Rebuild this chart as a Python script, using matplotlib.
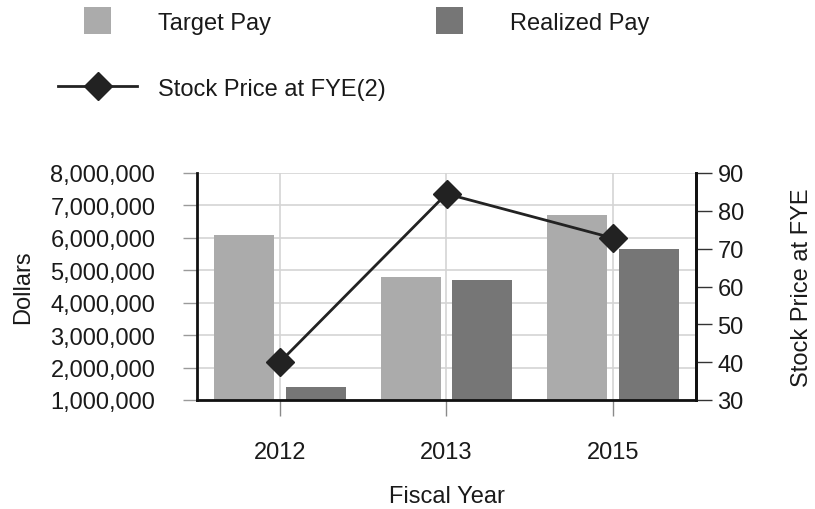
import matplotlib
matplotlib.use("Agg")
import matplotlib.pyplot as plt
import numpy as np
from matplotlib.ticker import FuncFormatter, MultipleLocator
from matplotlib.patches import Rectangle
from matplotlib.container import BarContainer
from matplotlib.legend_handler import HandlerPatch, update_from_first_child

plt.rcParams['font.family'] = ['Liberation Sans', 'DejaVu Sans']

years = ["2012", "2013", "2015"]
target_pay = [6100000, 4790000, 6690000]
realized_pay = [1390000, 4690000, 5650000]
stock_price = [40.1, 84.5, 72.8]

FS = 17
fig = plt.figure(figsize=(8.15, 5.1), dpi=100)
W, H = 815, 510
ax = fig.add_axes([197 / W, 1 - 401 / H, (696 - 197) / W, (401 - 174) / H])

x = np.arange(len(years))
bw = 0.36
off = 0.216
b1 = ax.bar(x - off, target_pay, bw, color="#ababab", label="Target Pay", zorder=2)
b2 = ax.bar(x + off, realized_pay, bw, color="#767676", label="Realized Pay", zorder=2)

ax.set_xlim(-0.5, 2.5)
ax.set_ylim(1000000, 8000000)
ax.yaxis.set_major_locator(MultipleLocator(1000000))
ax.yaxis.set_major_formatter(FuncFormatter(lambda v, p: f"{int(round(v)):,}"))
ax.set_xticks(x)
ax.set_xticklabels(years)
ax.set_axisbelow(True)
ax.grid(True, color="#d4d4d4", linewidth=1.2, zorder=0)

for s in ["left", "bottom", "right"]:
    ax.spines[s].set_linewidth(2.0)
    ax.spines[s].set_color("#111111")
ax.spines["top"].set_visible(False)

ax.tick_params(axis="y", length=10, width=1, color="#9a9a9a", pad=20, labelsize=FS, labelcolor="#1a1a1a")
ax.tick_params(axis="x", length=11.5, width=1, color="#8a8a8a", pad=18, labelsize=FS, labelcolor="#1a1a1a")

ax.set_xlabel("Fiscal Year", fontsize=FS, labelpad=16, color="#1a1a1a")
ax.set_ylabel("Dollars", fontsize=FS, labelpad=12, color="#1a1a1a")

ax2 = ax.twinx()
ax2.set_ylim(30, 90)
ax2.yaxis.set_major_locator(MultipleLocator(10))
line, = ax2.plot(x, stock_price, color="#222222", linewidth=2.0, marker="D",
                 markersize=14, markerfacecolor="#222222", markeredgecolor="#222222",
                 label="Stock Price at FYE(2)", zorder=5)
for s in ["left", "bottom", "top"]:
    ax2.spines[s].set_visible(False)
ax2.spines["right"].set_linewidth(2.0)
ax2.spines["right"].set_color("#111111")
ax2.tick_params(axis="y", length=11.5, width=1, color="#333333", pad=4, labelsize=FS, labelcolor="#1a1a1a")
ax2.set_ylabel("Stock Price at FYE", fontsize=FS, labelpad=34, color="#1a1a1a", rotation=90)


def square(legend, orig_handle, xdescent, ydescent, width, height, fontsize):
    s = 19.5
    return Rectangle((-xdescent + width / 2 - s / 2, -ydescent + height / 2 - s / 2), s, s)


leg = fig.legend(handles=[b1, line, b2],
                 labels=["Target Pay", "Stock Price at FYE(2)", "Realized Pay"],
                 ncol=2, loc="upper left", bbox_to_anchor=(58 / W, 1 - 13 / H),
                 frameon=False, fontsize=FS, handlelength=3.35, handletextpad=0.9,
                 labelspacing=1.85, columnspacing=1.0, borderpad=0, borderaxespad=0,
                 handler_map={BarContainer: HandlerPatch(patch_func=square,
                                                         update_func=update_from_first_child)})
for t in leg.get_texts():
    t.set_color("#1a1a1a")

fig.savefig("out.png", dpi=100)
